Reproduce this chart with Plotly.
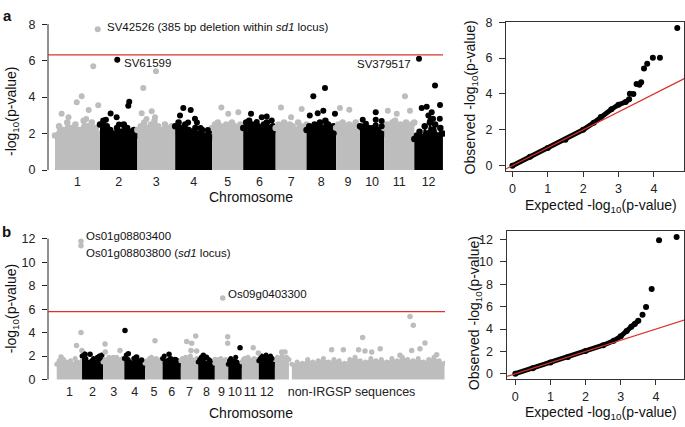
import numpy as np
import plotly.graph_objects as go

FONT = "Liberation Sans, Arial, Helvetica, sans-serif"
W, H = 685, 427
GRAY = "#bdbdbd"
BLACK = "#000000"
RED = "#d8342c"

# ---------------- data ----------------
chrom_names = [str(i) for i in range(1, 13)]
chrom_len_mb = [43.3, 35.9, 36.4, 35.5, 29.9, 31.2, 29.7, 28.4, 23.0, 23.2, 29.0, 27.5]

# panel a: upper envelope of the dense cloud per chromosome (-log10 p)
env_a = [
    [1.9, 2.4, 2.2, 2.6, 2.3, 2.5, 2.2, 2.7, 2.4, 2.6, 2.3, 2.0],
    [2.5, 2.7, 2.4, 2.2, 2.0, 2.3, 2.1, 2.5, 2.3, 2.1, 2.2, 1.9],
    [2.2, 2.4, 2.6, 2.3, 2.5, 2.7, 2.4, 2.2, 2.5, 2.3, 2.4, 2.1],
    [2.4, 2.6, 2.3, 2.5, 2.2, 2.1, 2.3, 2.0, 2.2, 1.9, 2.1, 1.8],
    [2.3, 2.5, 2.6, 2.4, 2.2, 2.5, 2.3, 2.6, 2.4, 2.2, 2.5, 2.3],
    [2.3, 2.6, 2.7, 2.5, 2.3, 2.4, 2.2, 2.5, 2.6, 2.3, 2.4, 2.2],
    [2.3, 2.5, 2.4, 2.6, 2.3, 2.5, 2.4, 2.2, 2.6, 2.4, 2.3, 2.5],
    [2.2, 2.4, 2.3, 2.5, 2.4, 2.6, 2.3, 2.7, 2.5, 2.3, 2.4, 2.1],
    [2.3, 2.5, 2.4, 2.6, 2.3, 2.4, 2.5, 2.3, 2.4, 2.6, 2.4, 2.3],
    [2.4, 2.3, 2.4, 2.3, 2.3, 2.2, 2.3, 2.2, 2.2, 2.1, 2.2, 2.0],
    [2.3, 2.5, 2.4, 2.6, 2.7, 2.4, 2.5, 2.3, 2.6, 2.4, 2.5, 2.6],
    [1.7, 1.9, 2.1, 1.8, 2.4, 2.0, 2.6, 2.2, 2.5, 1.9, 2.3, 2.0],
]
# panel a: individual points above the cloud (genome-wide position Mb, -log10 p)
pts_a_pos = [41.1, 36.8, 25.7, 20.9, 32.4, 41.6, 6.4, 13.0, 30.0,
             59.9, 71.4, 70.5, 53.5, 59.3, 49.0, 66.0, 61.5,
             97.1, 84.9, 83.4, 93.0, 96.2, 88.0,
             123.4, 130.5, 120.2, 134.6, 136.5, 140.0, 147.0, 128.0,
             160.0, 166.6, 176.3,
             188.5, 198.8, 203.6, 208.4, 194.0,
             217.3, 237.2, 227.0,
             259.6, 248.4, 258.0, 252.6, 269.2, 245.0, 261.0, 268.0,
             274.0, 283.0,
             308.4, 308.4, 308.4, 314.1, 314.1, 295.9, 299.0,
             336.5, 341.3, 320.0, 328.6,
             350.0, 365.4, 370.2, 352.6, 357.4, 362.2, 363.5, 359.0, 361.0, 370.0]
pts_a_val = [7.72, 5.69, 4.04, 3.72, 3.29, 3.55, 3.08, 2.9, 2.8,
             6.05, 3.75, 3.52, 3.1, 2.9, 2.76, 2.45, 2.5,
             5.42, 4.5, 3.11, 3.22, 2.9, 2.8,
             3.4, 3.29, 2.99, 2.81, 2.6, 2.3, 2.2, 2.6,
             3.43, 3.08, 3.17,
             3.08, 2.9, 2.93, 2.72, 2.63,
             3.43, 3.34, 2.9,
             4.5, 4.05, 3.25, 3.11, 3.08, 2.99, 2.54, 2.01,
             3.4, 3.3,
             3.17, 2.76, 2.45, 2.69, 2.4, 2.76, 2.54,
             4.05, 3.25, 3.25, 3.08,
             6.1, 4.64, 3.57, 3.4, 3.47, 3.17, 2.81, 2.99, 2.72, 2.81]
thresh_a = 6.31

# panel b
env_b = [
    [1.3, 1.6, 1.4, 1.7, 1.5, 1.4, 1.6, 1.3, 1.8, 1.5, 1.4, 1.6],
    [2.0, 2.2, 1.8, 1.5, 1.3, 1.6, 1.8, 1.5, 1.9, 2.0, 1.7, 1.4],
    [1.5, 1.7, 1.6, 1.9, 1.7, 1.8, 1.6, 1.9, 1.7, 1.5, 1.8, 1.6],
    [1.8, 2.1, 1.7, 1.5, 1.4, 1.8, 1.9, 1.6, 1.3, 1.6, 1.4, 1.2],
    [1.4, 1.6, 1.5, 1.7, 1.9, 1.6, 1.5, 1.8, 1.6, 1.4, 1.7, 1.5],
    [1.8, 2.0, 1.6, 1.5, 1.7, 1.8, 1.5, 1.4, 1.7, 1.6, 1.5, 1.3],
    [1.6, 1.8, 1.7, 1.9, 1.6, 1.8, 2.0, 1.7, 1.5, 1.6, 1.8, 1.5],
    [1.5, 1.7, 1.9, 1.6, 1.8, 1.4, 1.3, 1.7, 1.6, 1.4, 1.5, 1.3],
    [1.4, 1.6, 1.5, 1.7, 1.6, 1.8, 1.5, 1.6, 1.4, 1.7, 1.5, 1.6],
    [1.3, 1.6, 1.8, 1.5, 1.4, 1.6, 1.9, 1.5, 1.3, 1.2, 1.4, 1.2],
    [1.5, 1.7, 1.6, 1.8, 1.9, 1.7, 1.6, 1.5, 1.8, 1.6, 1.7, 1.5],
    [1.6, 1.8, 2.0, 1.9, 1.7, 2.1, 1.8, 1.9, 2.0, 1.6, 1.5, 1.3],
]
extra_label = "non-IRGSP sequences"
extra_blocks_len = [24.0, 261.0]
extra_gap = 5.0
env_extra = [
    [1.7, 1.9, 1.8, 2.0, 1.8, 1.9, 1.7],
    [1.3, 1.5, 1.4, 1.7, 1.5, 1.6, 1.8, 1.5, 1.7, 1.6, 1.4, 1.7, 1.9, 1.6, 1.5,
     1.8, 1.6, 1.7, 1.5, 1.8, 1.6, 1.9, 1.7, 1.6, 1.8, 1.5, 1.7, 1.9, 1.6, 1.4],
]
extra_label_pos = 504.0
pts_b_pos = [41.5, 41.5, 41.5, 33.8, 43.0, 7.4,
             48.4, 57.0, 76.9, 72.8,
             82.6, 83.0, 108.2, 116.7, 96.7,
             122.4, 136.6, 145.2,
             168.0, 159.5,
             192.0, 202.0,
             222.2, 230.7, 237.6, 229.6, 239.3,
             250.6, 256.0,
             283.8, 270.6,
             292.3, 292.3, 313.4,
             336.0, 321.9,
             344.6, 356.1, 367.5,
             384.6, 390.3,
             604.0, 609.6, 523.0, 629.5, 470.0, 490.0, 516.0, 527.0, 553.0, 538.5,
             606.8, 621.0, 649.6, 586.8]
pts_b_val = [11.78, 11.4, 4.0, 2.9, 2.48, 1.93,
             2.15, 2.15, 2.07, 1.79,
             3.03, 2.34, 2.48, 4.19, 1.87,
             2.2, 1.93, 1.66,
             3.31, 1.79,
             2.15, 1.71,
             3.25, 3.09, 3.72, 2.48, 2.43,
             2.07, 1.9,
             6.95, 1.71,
             3.64, 3.09, 2.7,
             2.7, 1.79,
             2.26, 1.93, 1.79,
             2.34, 2.34,
             5.38, 4.63, 3.58, 3.11, 2.53, 2.53, 2.53, 2.43, 2.62, 2.34,
             2.48, 2.62, 2.12, 2.07]
thresh_b = 5.79

# QQ plots
qa_exp_curve = [0, 0.5, 1.0, 1.5, 2.0, 2.3, 2.5, 2.8, 3.0, 3.2, 3.3]
qa_obs_curve = [0, 0.5, 0.98, 1.45, 2.0, 2.4, 2.72, 3.15, 3.4, 3.55, 3.7]
qa_exp_pts = [3.32, 3.42, 3.51, 3.59, 3.64, 3.72, 3.81, 3.97, 4.17, 4.66]
qa_obs_pts = [4.01, 4.0, 4.55, 4.51, 4.66, 5.42, 5.69, 6.02, 6.02, 7.68]
qb_exp_curve = [0, 0.5, 1.0, 1.5, 2.0, 2.5, 2.8, 3.0, 3.17, 3.3, 3.4, 3.5]
qb_obs_curve = [0, 0.5, 1.0, 1.5, 2.03, 2.55, 2.95, 3.35, 3.83, 4.2, 4.45, 4.75]
qb_exp_pts = [3.62, 3.72, 3.88, 4.09, 4.59]
qb_obs_pts = [5.27, 5.97, 7.59, 11.94, 12.23]

# ---------------- helpers ----------------
def dx(p):
    return p / W

def dy(p):
    return 1 - p / H

cum_start = np.concatenate([[0.0], np.cumsum(chrom_len_mb)])
genome_len = cum_start[-1]
centers = cum_start[:-1] + np.array(chrom_len_mb) / 2


def point_colors(pos):
    cols = []
    for p in pos:
        if p >= genome_len:
            cols.append(GRAY)
        else:
            i = int(np.searchsorted(cum_start, p, side="right") - 1)
            cols.append(GRAY if i % 2 == 0 else BLACK)
    return cols


fig = go.Figure()


def add_cloud(start, length, env, color, xa, ya, msize):
    xs = start + np.linspace(0, length, len(env))
    fig.add_trace(go.Scatter(
        x=xs, y=env, xaxis=xa, yaxis=ya, mode="lines+markers",
        fill="tozeroy", fillcolor=color,
        line=dict(width=0.5, color=color),
        marker=dict(size=msize, color=color, line=dict(width=0)),
        hoverinfo="skip", showlegend=False))


# panel a Manhattan
for i, env in enumerate(env_a):
    add_cloud(cum_start[i], chrom_len_mb[i], env, GRAY if i % 2 == 0 else BLACK, "x", "y", 6.5)
fig.add_trace(go.Scatter(x=pts_a_pos, y=pts_a_val, xaxis="x", yaxis="y", mode="markers",
                         marker=dict(size=6, color=point_colors(pts_a_pos), line=dict(width=0)),
                         showlegend=False, hoverinfo="skip"))

# panel b Manhattan
for i, env in enumerate(env_b):
    add_cloud(cum_start[i], chrom_len_mb[i], env, GRAY if i % 2 == 0 else BLACK, "x3", "y3", 5)
ex_start = genome_len
for j, (L, env) in enumerate(zip(extra_blocks_len, env_extra)):
    add_cloud(ex_start, L, env, GRAY, "x3", "y3", 5)
    ex_start += L + extra_gap
fig.add_trace(go.Scatter(x=pts_b_pos, y=pts_b_val, xaxis="x3", yaxis="y3", mode="markers",
                         marker=dict(size=5.5, color=point_colors(pts_b_pos), line=dict(width=0)),
                         showlegend=False, hoverinfo="skip"))

# QQ a
fig.add_trace(go.Scatter(x=qa_exp_curve, y=qa_obs_curve, xaxis="x2", yaxis="y2", mode="lines+markers",
                         line=dict(color=BLACK, width=5), marker=dict(size=6, color=BLACK),
                         showlegend=False, hoverinfo="skip"))
fig.add_trace(go.Scatter(x=qa_exp_pts, y=qa_obs_pts, xaxis="x2", yaxis="y2", mode="markers",
                         marker=dict(size=6, color=BLACK), showlegend=False, hoverinfo="skip"))
fig.add_trace(go.Scatter(x=[-1, 20], y=[-1, 20], xaxis="x2", yaxis="y2", mode="lines",
                         line=dict(color=RED, width=1.2), showlegend=False, hoverinfo="skip"))
# QQ b
fig.add_trace(go.Scatter(x=qb_exp_curve, y=qb_obs_curve, xaxis="x4", yaxis="y4", mode="lines+markers",
                         line=dict(color=BLACK, width=5), marker=dict(size=6, color=BLACK),
                         showlegend=False, hoverinfo="skip"))
fig.add_trace(go.Scatter(x=qb_exp_pts, y=qb_obs_pts, xaxis="x4", yaxis="y4", mode="markers",
                         marker=dict(size=6, color=BLACK), showlegend=False, hoverinfo="skip"))
fig.add_trace(go.Scatter(x=[-1, 20], y=[-1, 20], xaxis="x4", yaxis="y4", mode="lines",
                         line=dict(color=RED, width=1.2), showlegend=False, hoverinfo="skip"))

tickfont = dict(family=FONT, size=12.5, color="#222")

man_x = dict(showline=False, ticks="", showgrid=False, zeroline=False, tickfont=tickfont,
             tickmode="array", tickangle=0)
man_y = dict(showline=False, ticks="outside", ticklen=5, tickcolor="#222", tickwidth=1,
             showgrid=False, zeroline=False, tickfont=tickfont, ticklabelstandoff=4)
qq_x = dict(showline=True, mirror=True, linecolor="#333", linewidth=1, ticks="outside",
            ticklen=5, tickcolor="#333", showgrid=False, zeroline=False, tickfont=tickfont,
            ticklabelstandoff=1, tickangle=0)
qq_y = dict(showline=True, mirror=True, linecolor="#333", linewidth=1, ticks="outside",
            ticklen=6, tickcolor="#333", showgrid=False, zeroline=False, tickfont=tickfont,
            ticklabelstandoff=4)

fig.update_layout(
    autosize=False,
    width=W, height=H, margin=dict(l=0, r=0, t=0, b=0),
    paper_bgcolor="white", plot_bgcolor="white", showlegend=False,
    font=dict(family=FONT, color="#222"),
    xaxis=dict(**man_x, domain=[dx(48), dx(445)], range=[-6.7, 375.0],
               tickvals=list(centers), ticktext=chrom_names, anchor="y"),
    yaxis=dict(**man_y, domain=[dy(170), dy(15)], range=[-0.12, 8.14],
               tickvals=[0, 2, 4, 6, 8], anchor="x"),
    xaxis2=dict(**qq_x, domain=[dx(506), dx(684)], range=[-0.18, 4.85],
                tickvals=[0, 1, 2, 3, 4], anchor="y2"),
    yaxis2=dict(**qq_y, domain=[dy(169), dy(15.7)], range=[-0.31, 8.0],
                tickvals=[0, 2, 4, 6, 8], anchor="x2"),
    xaxis3=dict(**man_x, domain=[dx(48), dx(445)], range=[-14.9, 663.8],
                tickvals=list(centers) + [extra_label_pos], ticktext=chrom_names + [extra_label],
                anchor="y3"),
    yaxis3=dict(**man_y, domain=[dy(386), dy(235)], range=[-0.22, 12.28],
                tickvals=[0, 2, 4, 6, 8, 10, 12], anchor="x3"),
    xaxis4=dict(**qq_x, domain=[dx(506.5), dx(684)], range=[-0.25, 4.8],
                tickvals=[0, 1, 2, 3, 4], anchor="y4"),
    yaxis4=dict(**qq_y, domain=[dy(382.5), dy(230.5)], range=[-0.45, 12.77],
                tickvals=[0, 2, 4, 6, 8, 10, 12], anchor="x4"),
)

# axis lines & thresholds for Manhattan plots
fig.add_shape(type="line", xref="x domain", yref="y", x0=0, x1=0, y0=0, y1=8,
              line=dict(color="#222", width=1))
fig.add_shape(type="line", xref="x3 domain", yref="y3", x0=0, x1=0, y0=0, y1=12,
              line=dict(color="#222", width=1))
fig.add_shape(type="line", xref="x domain", yref="y", x0=0, x1=0.995, y0=thresh_a, y1=thresh_a,
              line=dict(color=RED, width=1.2))
fig.add_shape(type="line", xref="x3 domain", yref="y3", x0=0, x1=1, y0=thresh_b, y1=thresh_b,
              line=dict(color=RED, width=1.2))

LOG = "-log<sub>10</sub>(p-value)"
ann = []
def txt(t, x, y, size=14, xanchor="center", angle=0, bold=False):
    ann.append(dict(text=("<b>%s</b>" % t) if bold else t, x=dx(x), y=dy(y), xref="paper", yref="paper",
                    xanchor=xanchor, yanchor="middle", showarrow=False, textangle=angle,
                    font=dict(family=FONT, size=size, color="#111")))

txt("a", 7, 9, size=15, bold=True)
txt("b", 6, 231, size=15, bold=True)
txt("Chromosome", 251, 196)
txt("Chromosome", 251, 418)
txt(LOG, 12, 107, angle=-90)
txt(LOG, 12, 310, angle=-90)
txt("Observed " + LOG, 471, 93, angle=-90)
txt("Expected " + LOG, 601, 205)
txt("Observed " + LOG, 475, 315, angle=-90)
txt("Expected " + LOG, 601, 418)
txt("SV42526 (385 bp deletion within <i>sd1</i> locus)", 105, 21, size=11.5, xanchor="left")
txt("SV61599", 122, 58, size=11.5, xanchor="left")
txt("SV379517", 413, 59, size=11.5, xanchor="right")
txt("Os01g08803400", 84, 236, size=11.5, xanchor="left")
txt("Os01g08803800 (<i>sd1</i> locus)", 84, 253, size=11.5, xanchor="left")
txt("Os09g0403300", 226, 295, size=11.5, xanchor="left")
fig.update_layout(annotations=ann)

fig.write_html("out.html",
               config={"responsive": False, "displayModeBar": False},
               post_script="document.body.style.margin='0';")
